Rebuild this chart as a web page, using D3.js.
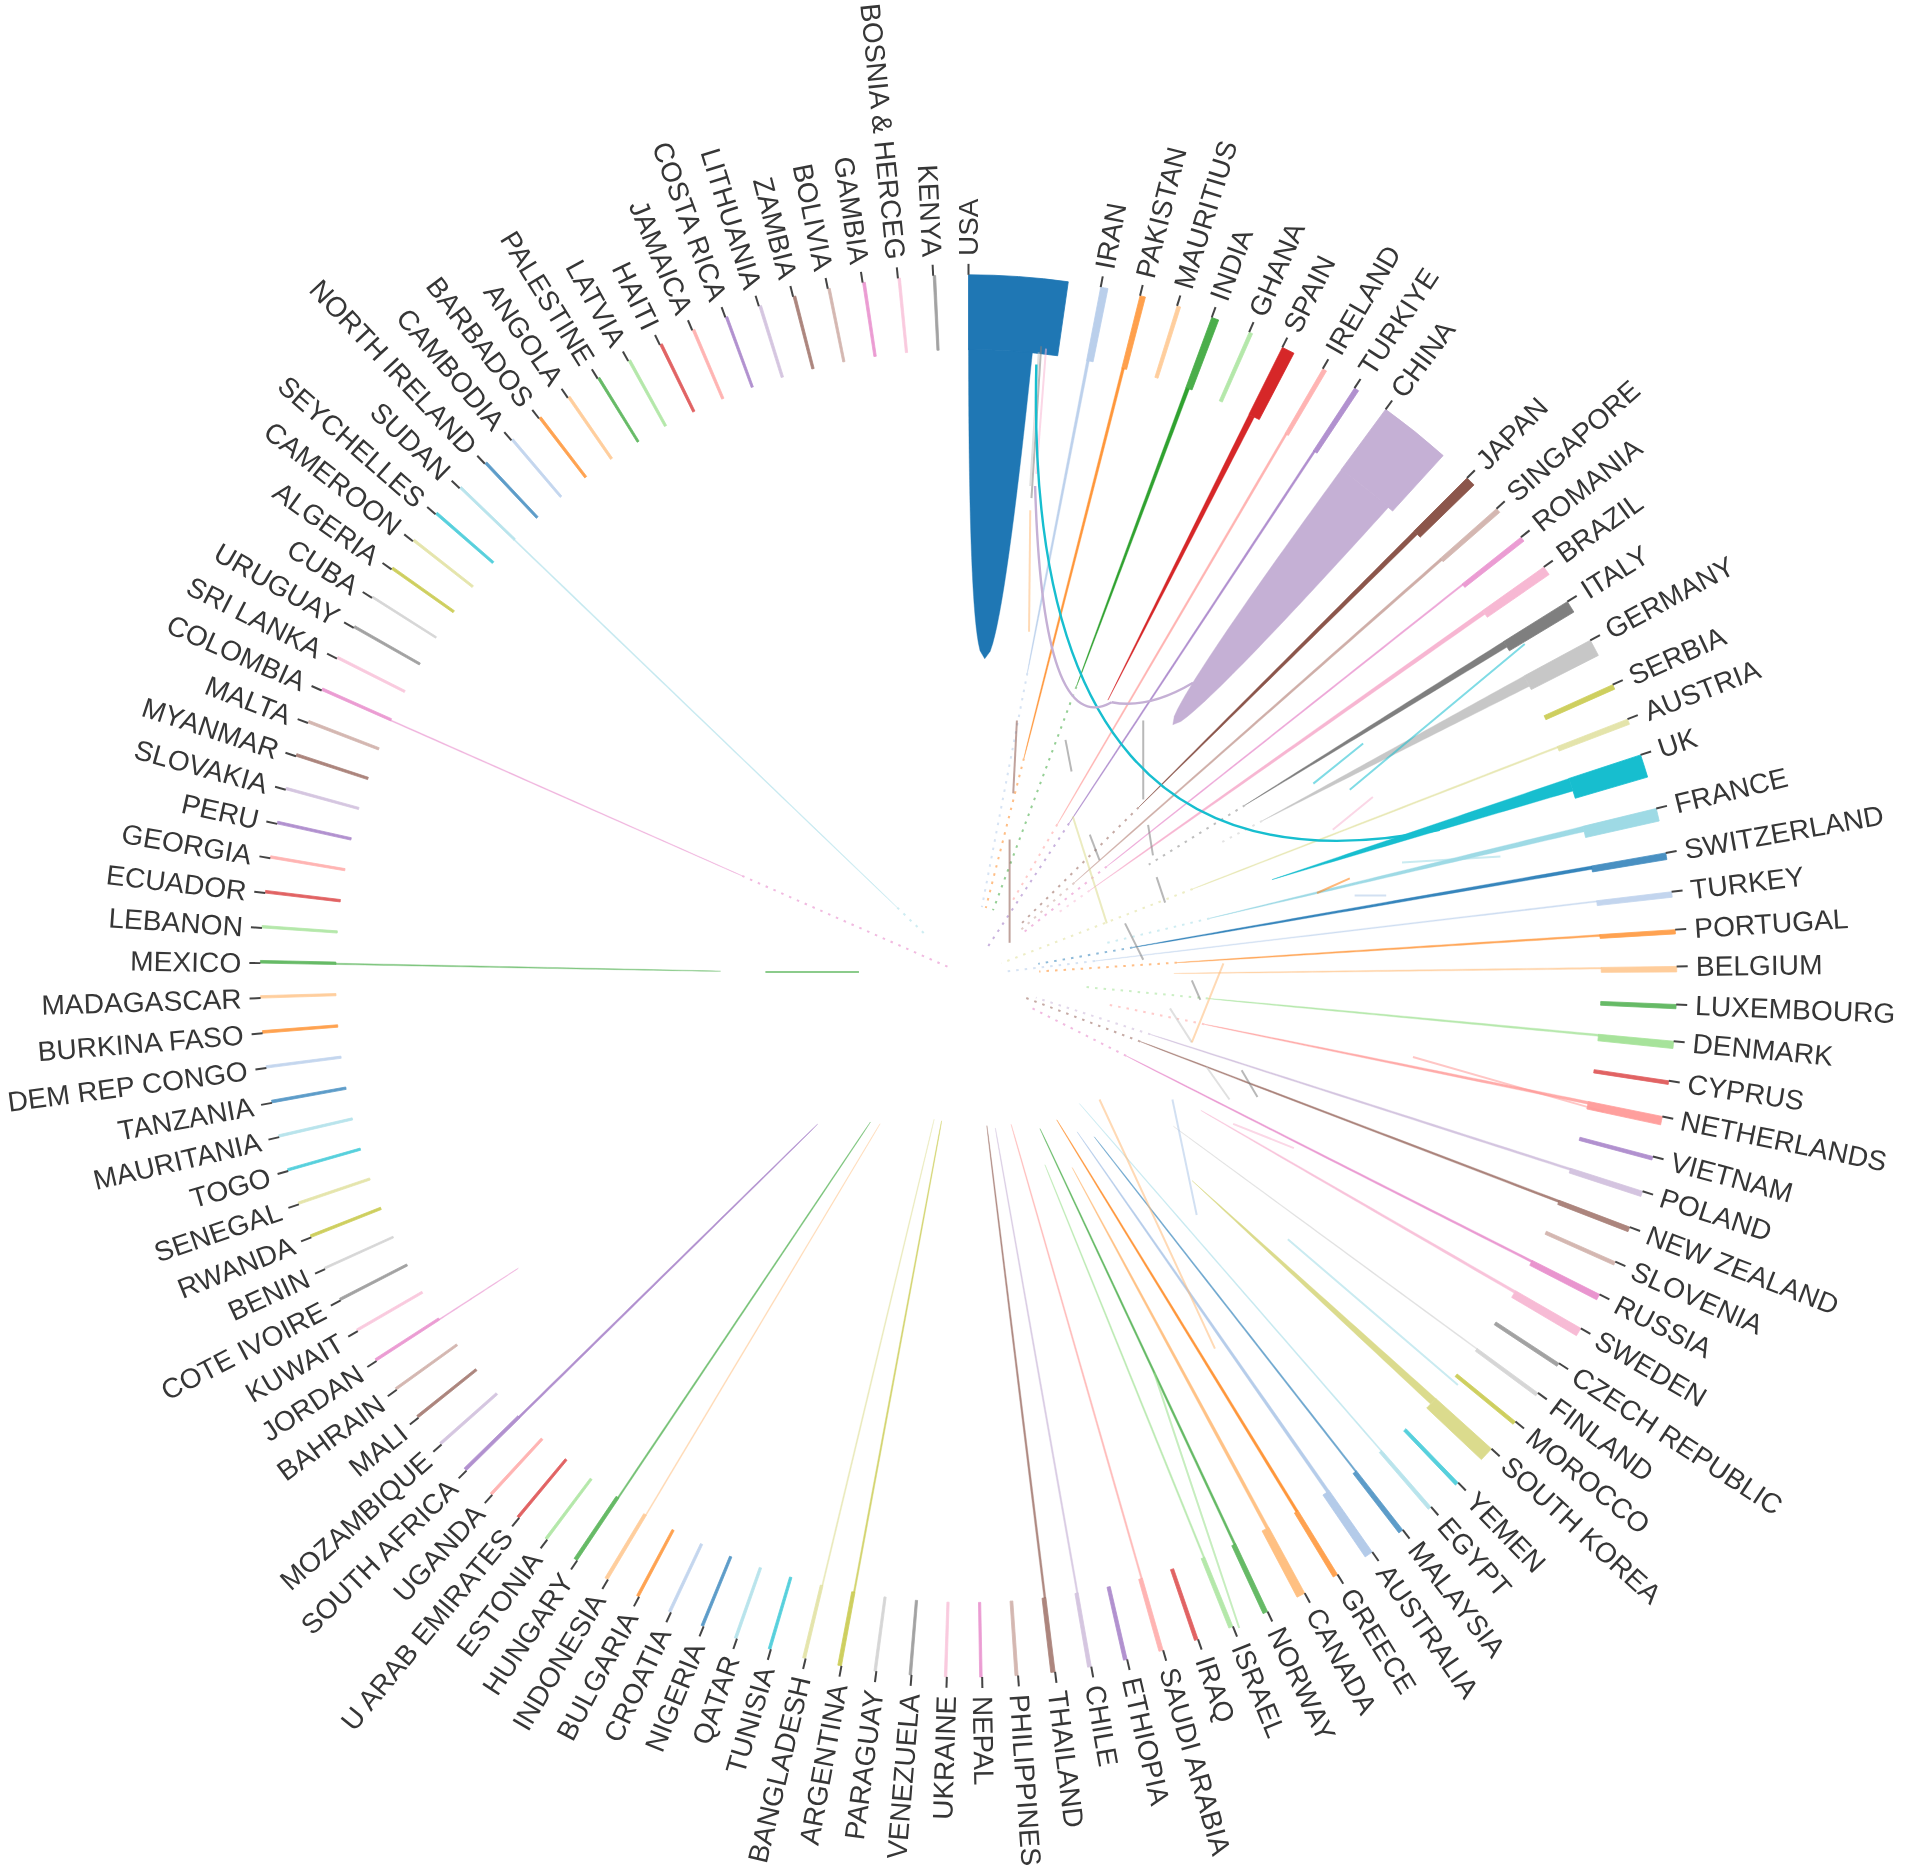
<!DOCTYPE html>
<html>
<head>
<meta charset="utf-8">
<script src="https://cdn.jsdelivr.net/npm/d3@7"></script>
<style>
  html, body { margin: 0; background: #fff; }
  svg { display: block; filter: blur(0.6px); }
  text { font-family: "Liberation Sans", Arial, sans-serif; font-size: 28px; fill: #363636; }
</style>
</head>
<body>
<script>
const countries = ['USA','IRAN','PAKISTAN','MAURITIUS','INDIA','GHANA','SPAIN','IRELAND','TURKIYE','CHINA','JAPAN','SINGAPORE','ROMANIA','BRAZIL','ITALY','GERMANY','SERBIA','AUSTRIA','UK','FRANCE','SWITZERLAND','TURKEY','PORTUGAL','BELGIUM','LUXEMBOURG','DENMARK','CYPRUS','NETHERLANDS','VIETNAM','POLAND','NEW ZEALAND','SLOVENIA','RUSSIA','SWEDEN','CZECH REPUBLIC','FINLAND','MOROCCO','SOUTH KOREA','YEMEN','EGYPT','MALAYSIA','AUSTRALIA','GREECE','CANADA','NORWAY','ISRAEL','IRAQ','SAUDI ARABIA','ETHIOPIA','CHILE','THAILAND','PHILIPPINES','NEPAL','UKRAINE','VENEZUELA','PARAGUAY','ARGENTINA','BANGLADESH','TUNISIA','QATAR','NIGERIA','CROATIA','BULGARIA','INDONESIA','HUNGARY','ESTONIA','U ARAB EMIRATES','UGANDA','SOUTH AFRICA','MOZAMBIQUE','MALI','BAHRAIN','JORDAN','KUWAIT','COTE IVOIRE','BENIN','RWANDA','SENEGAL','TOGO','MAURITANIA','TANZANIA','DEM REP CONGO','BURKINA FASO','MADAGASCAR','MEXICO','LEBANON','ECUADOR','GEORGIA','PERU','SLOVAKIA','MYANMAR','MALTA','COLOMBIA','SRI LANKA','URUGUAY','CUBA','ALGERIA','CAMEROON','SEYCHELLES','SUDAN','NORTH IRELAND','CAMBODIA','BARBADOS','ANGOLA','PALESTINE','LATVIA','HAITI','JAMAICA','COSTA RICA','LITHUANIA','ZAMBIA','BOLIVIA','GAMBIA','BOSNIA & HERCEG','KENYA'];

// total flow of each country
const totalFlow = [8.1,.6,.45,.3,.6,.3,1.05,.35,.4,6,.8,.4,.4,.75,1,1.4,.4,.45,1.9,1.05,.55,.45,.35,.45,.35,.6,.3,.7,.3,.45,.4,.3,.5,.7,.3,.3,.3,1.2,.3,.3,.4,.7,.4,.7,.4,.35,.3,.35,.3,.3,.35,.25,.2,.2,.2,.2,.3,.25,.22,.22,.22,.22,.22,.28,.3,.22,.22,.22,.28,.22,.22,.2,.22,.2,.2,.16,.22,.2,.2,.2,.22,.2,.22,.2,.22,.2,.22,.2,.22,.2,.22,.22,.22,.2,.2,.16,.22,.2,.22,.2,.22,.2,.22,.22,.2,.22,.22,.22,.2,.22,.22,.2,.22,.2,.2];

// flow that leaves the outer band toward the centre
const bodyFlow = {USA:5.8,IRAN:.25,PAKISTAN:.25,INDIA:.35,SPAIN:.55,IRELAND:.2,TURKIYE:.2,CHINA:5.5,JAPAN:.45,SINGAPORE:.25,ROMANIA:.15,BRAZIL:.4,ITALY:.6,GERMANY:1.05,AUSTRIA:.15,UK:1.2,FRANCE:.5,SWITZERLAND:.3,TURKEY:.12,PORTUGAL:.17,BELGIUM:.14,DENMARK:.18,NETHERLANDS:.25,POLAND:.2,'NEW ZEALAND':.2,RUSSIA:.2,SWEDEN:.25,FINLAND:.1,'SOUTH KOREA':.7,EGYPT:.12,MALAYSIA:.15,AUSTRALIA:.3,GREECE:.25,CANADA:.3,NORWAY:.2,ISRAEL:.15,'SAUDI ARABIA':.15,CHILE:.15,THAILAND:.18,ARGENTINA:.15,BANGLADESH:.12,INDONESIA:.1,HUNGARY:.15,'SOUTH AFRICA':.2,JORDAN:.1,MEXICO:.12,COLOMBIA:.1,SUDAN:.12};

// share of the radius where the solid part of the ribbon ends
const reach = {USA:.453,IRAN:.44,PAKISTAN:.32,INDIA:.44,SPAIN:.44,IRELAND:.25,TURKIYE:.26,CHINA:.46,JAPAN:.34,SINGAPORE:.2,ROMANIA:.25,BRAZIL:.21,ITALY:.46,GERMANY:.47,AUSTRIA:.34,UK:.45,FRANCE:.35,SWITZERLAND:.235,TURKEY:.18,PORTUGAL:.295,BELGIUM:.29,DENMARK:.34,NETHERLANDS:.34,POLAND:.27,'NEW ZEALAND':.26,RUSSIA:.25,SWEDEN:.38,FINLAND:.36,'SOUTH KOREA':.43,EGYPT:.24,MALAYSIA:.29,AUSTRALIA:.27,GREECE:.24,CANADA:.31,NORWAY:.24,ISRAEL:.29,'SAUDI ARABIA':.22,CHILE:.22,THAILAND:.215,ARGENTINA:.21,BANGLADESH:.21,INDONESIA:.245,HUNGARY:.25,'SOUTH AFRICA':.3,JORDAN:.76,MEXICO:.35,COLOMBIA:.35,SUDAN:.14};

// share of the radius where the faint dotted rest of the ribbon ends
const fade = {IRAN:.1,PAKISTAN:.1,INDIA:.1,IRELAND:.12,TURKIYE:.05,JAPAN:.1,SINGAPORE:.1,ROMANIA:.1,BRAZIL:.15,ITALY:.3,GERMANY:.4,AUSTRIA:.05,FRANCE:.2,SWITZERLAND:.1,TURKEY:.05,PORTUGAL:.1,DENMARK:.16,NETHERLANDS:.2,POLAND:.1,'NEW ZEALAND':.08,RUSSIA:.1,COLOMBIA:.03,SUDAN:.08};

// curved ribbons: country, from, bend, to (picture units)
const curves = [
  ['UK',853,300,842,752,1185,683],
  ['CHINA',852,400,858,610,915,578],
  ['CHINA',915,578,945,584,982,562]
];

// visible pieces of thin ribbons: country, from, to (picture units)
const pieces = [
  ['KENYA',857,285,849,410],['GERMANY',855,290,848,400],['BRAZIL',861,287,853,390],
  ['BELGIUM',848,420,847,520],['THAILAND',837,593,834,653],['THAILAND',831,691,831,776],
  ['KENYA',941,593,941,658],['KENYA',877,609,882,635],['KENYA',897,687,905,708],
  ['KENYA',945,679,949,704],['KENYA',952,722,959,743],['KENYA',926,760,941,790],
  ['KENYA',981,807,988,823],['KENYA',1022,881,1035,903],['GERMANY',963,830,981,858],
  ['GERMANY',993,878,1012,905],['AUSTRIA',883,672,911,760],['BELGIUM',1007,793,981,858],
  ['UK',1081,645,1122,612],['UK',1111,650,1255,530],['BRAZIL',1097,683,1130,656],
  ['PAKISTAN',1084,735,1111,723],['IRAN',1115,737,1141,737],['FRANCE',1154,710,1235,705],
  ['IRELAND',1163,870,1320,915],['MEXICO',630,800,707,800],['BRAZIL',1015,925,1065,945],
  ['FRANCE',1060,1020,1200,1140],['IRAN',965,905,985,1000],['BELGIUM',905,905,1000,1110],
  ['GHANA',950,1130,1020,1340]
];

const palette = ['#1f77b4','#aec7e8','#ff7f0e','#ffbb78','#2ca02c','#98df8a','#d62728','#ff9896','#9467bd','#c5b0d5','#8c564b','#c49c94','#e377c2','#f7b6d2','#7f7f7f','#c7c7c7','#bcbd22','#dbdb8d','#17becf','#9edae5'];

const width = 1905, height = 1868;
const cx = 968.5, cy = 976;
const rimR = 704, bandR = 629, pad = 2.66;

const color = d3.scaleOrdinal(countries, countries.map((d, i) => palette[i % 20]));
const pic = d3.scaleLinear([0, 1568], [0, width]);
const radius = d3.scaleLinear([0, 1], [0, rimR]);

// lay the arcs out round the circle
const total = d3.sum(totalFlow) + pad * countries.length;
const angle = d3.scaleLinear([0, total], [0, 2 * Math.PI]);
let running = 0;
const groups = countries.map((name, i) => {
  const g = { name, start: angle(running), end: angle(running + totalFlow[i]), flow: totalFlow[i] };
  running += totalFlow[i] + pad;
  return g;
});

const polar = (a, r) => [r * Math.sin(a), -r * Math.cos(a)];
const strength = d3.scaleLinear([0.2, 0.8], [0.55, 1]).clamp(true);
const roundness = d3.scaleLinear([0.15, 0.5, 1.2, 5.8], [0.3, 0.85, 1, 0.5]).clamp(true);
const line = d3.line();

const svg = d3.select('body').append('svg').attr('width', width).attr('height', height);
// the circle in the reference is a little wider than it is tall
const chart = svg.append('g').attr('transform', `translate(${cx},${cy}) scale(1.006,0.996)`);

// faint dotted rests, drawn first
chart.append('g').selectAll('line')
  .data(groups.filter(g => fade[g.name] !== undefined))
  .join('line')
  .each(function (g) {
    const mid = g.start + (angle(bodyFlow[g.name]) / 2);
    const [x1, y1] = polar(mid, radius(reach[g.name]));
    const [x2, y2] = polar(mid, radius(fade[g.name]));
    d3.select(this).attr('x1', x1).attr('y1', y1).attr('x2', x2).attr('y2', y2);
  })
  .attr('stroke', g => color(g.name))
  .attr('stroke-width', 2)
  .attr('stroke-dasharray', '2.5 6')
  .attr('opacity', 0.5);

// ribbon bodies, taper from the band edge to the reach
const bodyPath = g => {
  const flow = bodyFlow[g.name];
  const w0 = angle(flow) * bandR;
  const mid = g.start + angle(flow) / 2;
  const r1 = radius(reach[g.name]);
  const k = roundness(flow);
  const ts = d3.range(0, 1.0001, 1 / 40);
  const offset = (t, side) => {
    const r = bandR + (r1 - bandR) * t;
    const half = side * w0 / 2 * Math.pow(1 - t, k);
    const [x, y] = polar(mid, r);
    return [x + half * Math.cos(mid), y + half * Math.sin(mid)];
  };
  return line([...ts.map(t => offset(t, -1)), ...ts.slice().reverse().map(t => offset(t, 1))]) + 'Z';
};

chart.append('g').selectAll('path')
  .data(groups.filter(g => bodyFlow[g.name] !== undefined))
  .join('path')
  .attr('d', bodyPath)
  .attr('fill', g => color(g.name))
  .attr('stroke', g => color(g.name))
  .attr('stroke-width', 0.4)
  .attr('opacity', g => strength(bodyFlow[g.name] * 2.2));

// outer band of every country
const band = d3.arc().innerRadius(bandR).outerRadius(rimR)
  .startAngle(g => g.start).endAngle(g => g.end);
chart.append('g').selectAll('path')
  .data(groups)
  .join('path')
  .attr('d', band)
  .attr('fill', g => color(g.name))
  .attr('stroke', g => color(g.name))
  .attr('stroke-width', 0.8)
  .attr('opacity', g => Math.max(0.72, strength(g.flow)));

// thin pieces and curves sit on top
const overlay = svg.append('g');
overlay.selectAll('line')
  .data(pieces)
  .join('line')
  .attr('x1', d => pic(d[1])).attr('y1', d => pic(d[2]))
  .attr('x2', d => pic(d[3])).attr('y2', d => pic(d[4]))
  .attr('stroke', d => color(d[0]))
  .attr('stroke-width', 2)
  .attr('opacity', 0.55);

overlay.selectAll('path')
  .data(curves)
  .join('path')
  .attr('d', d => {
    const p = d3.path();
    p.moveTo(pic(d[1]), pic(d[2]));
    p.quadraticCurveTo(pic(d[3]), pic(d[4]), pic(d[5]), pic(d[6]));
    return p.toString();
  })
  .attr('fill', 'none')
  .attr('stroke', d => color(d[0]))
  .attr('stroke-width', 2.4);

// ticks and labels
const outer = chart.append('g').selectAll('g')
  .data(groups)
  .join('g')
  .attr('transform', g => `rotate(${g.start * 180 / Math.PI - 90}) translate(${rimR},0)`);

outer.append('line')
  .attr('x2', 11)
  .attr('stroke', '#444')
  .attr('stroke-width', 2);

outer.append('text')
  .attr('x', g => g.start > Math.PI ? -19 : 19)
  .attr('dy', '.35em')
  .attr('transform', g => g.start > Math.PI ? 'rotate(180)' : null)
  .attr('text-anchor', g => g.start > Math.PI ? 'end' : 'start')
  .text(g => g.name);
</script>
</body>
</html>
